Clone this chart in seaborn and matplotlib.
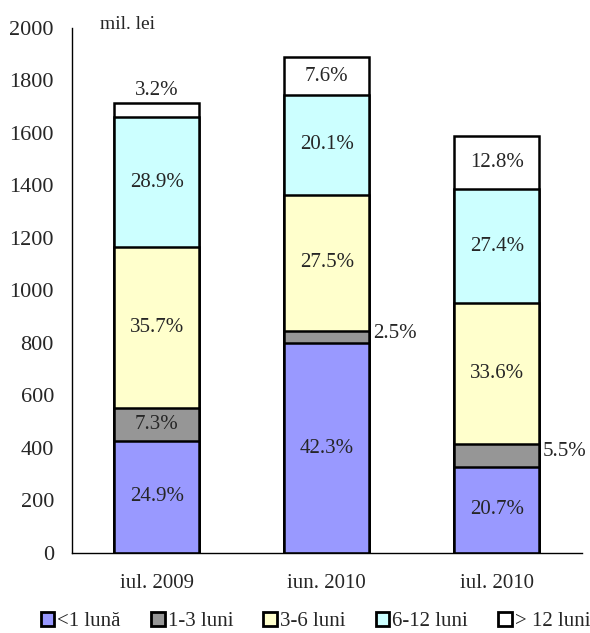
import numpy as np
import matplotlib
matplotlib.use('Agg')
import matplotlib.pyplot as plt
import matplotlib.patches as mpatches
import seaborn as sns

# date: structura pe termene
perioade = ['iul. 2009', 'iun. 2010', 'iul. 2010']
total = [1715, 1888, 1590]
grupe = ['<1 lună', '1-3 luni', '3-6 luni', '6-12 luni', '> 12 luni']
pct_lt1 = [24.9, 42.3, 20.7]
pct_1_3 = [7.3, 2.5, 5.5]
pct_3_6 = [35.7, 27.5, 33.6]
pct_6_12 = [28.9, 20.1, 27.4]
pct_gt12 = [3.2, 7.6, 12.8]
culori = ['#9999FF', '#969696', '#FFFFCC', '#CCFFFF', '#FFFFFF']

sns.set_style('white')
plt.rcParams['font.family'] = ['Liberation Serif', 'DejaVu Serif']

pct = np.array([pct_lt1, pct_1_3, pct_3_6, pct_6_12, pct_gt12])
valori = pct / 100.0 * np.array(total)
cum = np.cumsum(valori, axis=0)

fig = plt.figure(figsize=(5.9, 6.33), dpi=100)
ax = fig.add_axes([0.122, 0.1264, 0.864, 0.8294])

# barele suprapuse, de la cumulativul cel mai mare in jos
for k in range(len(grupe) - 1, -1, -1):
    sns.barplot(x=perioade, y=cum[k], color=culori[k], width=0.5,
                edgecolor='black', linewidth=1.8, saturation=1, ax=ax)

ax.set_ylim(0, 2000)
ax.set_xlim(-0.5, 2.5)
ax.set_yticks(np.arange(0, 2001, 200))
ax.tick_params(axis='y', direction='out', length=6, width=1, color='black', labelsize=16, pad=7)
ax.set_xticks([0, 1, 2])
ax.set_xticklabels(perioade)
ax.tick_params(axis='x', which='major', length=0, labelsize=15, pad=15)
ax.set_xticks([-0.5, 0.5, 1.5, 2.5], minor=True)
ax.tick_params(axis='x', which='minor', direction='out', length=6, width=1, color='black')
ax.set_xlabel('')
ax.set_ylabel('')
for s in ['top', 'right']:
    ax.spines[s].set_visible(False)
for s in ['left', 'bottom']:
    ax.spines[s].set_color('black')
    ax.spines[s].set_linewidth(1)

# etichete procentuale
for i in range(len(perioade)):
    for k in range(len(grupe)):
        jos = cum[k - 1][i] if k > 0 else 0
        mij = (jos + cum[k][i]) / 2
        txt = f'{pct[k][i]:.1f}%'
        if k == 1 and i > 0:
            ax.text(i + 0.27, mij + 15, txt, ha='left', va='center', fontsize=15)
        elif k == 4 and i == 0:
            ax.text(i, cum[k][i] + 10, txt, ha='center', va='bottom', fontsize=15)
        else:
            ax.text(i, mij, txt, ha='center', va='center', fontsize=15)

ax.text(0.055, 0.99, 'mil. lei', transform=ax.transAxes, ha='left', va='bottom', fontsize=14)

handles = [mpatches.Patch(facecolor=c, edgecolor='black', linewidth=2, label=g)
           for c, g in zip(culori, grupe)]
fig.legend(handles=handles, loc='center', bbox_to_anchor=(0.535, 0.018), ncol=5,
           frameon=False, fontsize=15, handlelength=0.65, handleheight=0.65,
           handletextpad=0.15, columnspacing=1.45, borderaxespad=0)

fig.savefig('out.png', dpi=100)
